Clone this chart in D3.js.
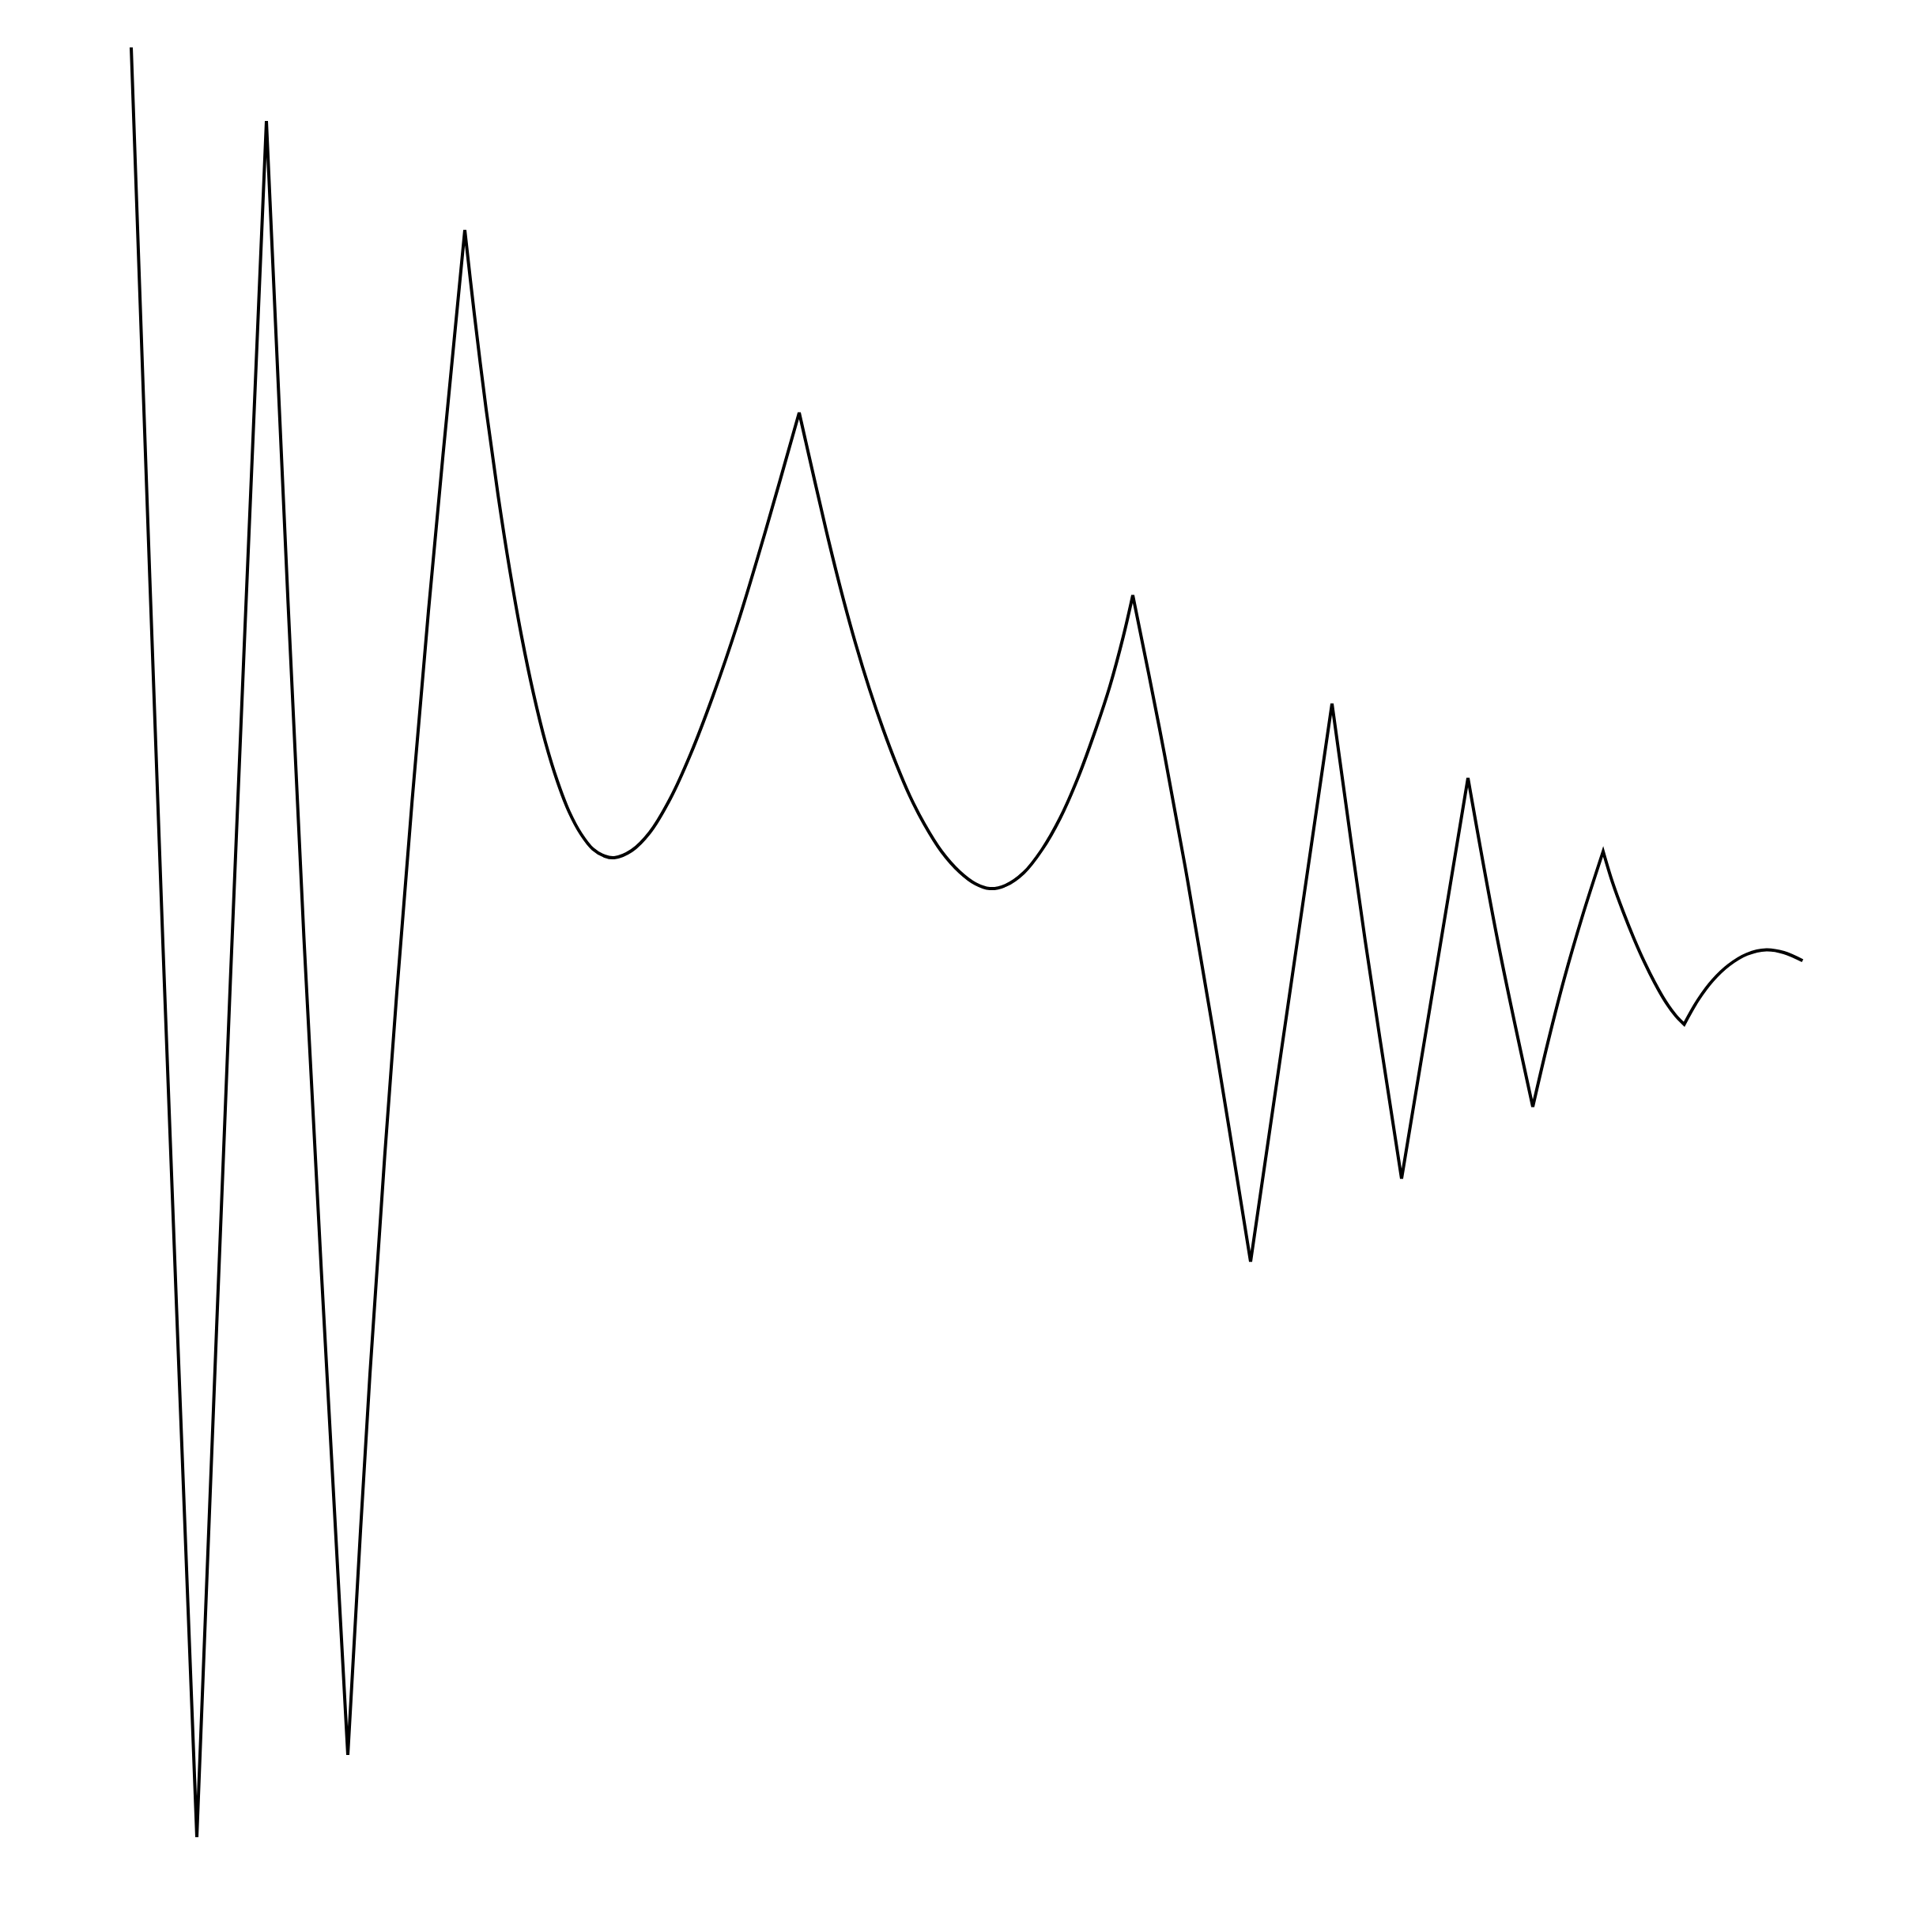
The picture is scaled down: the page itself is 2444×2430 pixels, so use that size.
<!DOCTYPE html>
<html>
<head>
<meta charset="utf-8">
<script src="https://cdn.jsdelivr.net/npm/d3@7"></script>
<style>
  body { margin: 0; background: #fff; }
  svg { display: block; }
</style>
</head>
<body>
<svg id="chart"></svg>
<script>
"use strict"

// sharp turning points of the trace, in the order they are drawn
const cornerX = [166, 249, 337, 440, 588, 1011, 1433, 1582, 1685, 1773, 1857, 1939, 2028, 2130.5, 2280.3]
const cornerY = [60, 2324, 153, 2220, 291, 522, 753, 1596, 890, 1491, 984, 1400, 1077, 1295.7, 1215.3]

// points read along the bends between the corners
const bendX = [
    206, 291.5, 384.5, 468, 502, 542,
    600, 615, 630, 645, 660, 675, 690, 705, 720, 735, 750, 765, 777,
    799, 822, 848, 874, 902, 933, 968,
    1031, 1048, 1065, 1082, 1100, 1117, 1134, 1151, 1169, 1191, 1214, 1234, 1252,
    1272, 1295, 1318, 1341, 1364, 1387, 1404, 1421,
    1466.5, 1499, 1534,
    1727, 1895, 1958, 1978.5, 2002,
    2040, 2053.3, 2066.7, 2080, 2093.3, 2106.7, 2120,
    2148, 2166.7, 2186.7, 2210, 2234.5, 2256.7
]
const bendY = [
    1192, 1239, 1187, 1738, 1255, 773,
    397, 518, 626, 722, 806, 878, 939, 988, 1027, 1055, 1074, 1083, 1085,
    1076, 1053, 1010, 953, 880, 789, 673,
    610, 683, 751, 813, 872, 922, 967, 1007, 1042, 1077, 1103, 1118, 1124,
    1120, 1104, 1075, 1035, 983, 920, 868, 805,
    920, 1095, 1300,
    1190, 1192, 1319, 1239, 1158,
    1116.7, 1153.3, 1186.7, 1216.7, 1243.3, 1266.7, 1285,
    1265, 1240, 1221, 1207, 1201.5, 1205
]

const width = 2444
const height = 2430

const svg = d3.select("#chart")
    .attr("width", width)
    .attr("height", height)

const x = d3.scaleLinear().domain([0, 2444]).range([0, width])
const y = d3.scaleLinear().domain([0, 2430]).range([0, height])

const corners = cornerX.map((v, i) => ({x: v, y: cornerY[i]}))
const bends = bendX.map((v, i) => ({x: v, y: bendY[i]}))

const line = d3.line()
    .x(d => x(d.x))
    .y(d => y(d.y))
    .curve(d3.curveCatmullRom.alpha(0.5))

// each stretch between two corners is smooth, the corners stay sharp
let path = ""
for (let i = 0; i < corners.length - 1; ++i) {
    const a = corners[i]
    const b = corners[i + 1]
    const run = [a].concat(bends.filter(p => p.x > a.x && p.x < b.x), [b])
    const part = line(run)
    path += i === 0 ? part : part.replace(/^M[^LC]*/, "")
}

svg.append("rect")
    .attr("width", width)
    .attr("height", height)
    .attr("fill", "#fff")

svg.append("path")
    .attr("d", path)
    .attr("fill", "none")
    .attr("stroke", "#000")
    .attr("stroke-width", 4)
</script>
</body>
</html>
